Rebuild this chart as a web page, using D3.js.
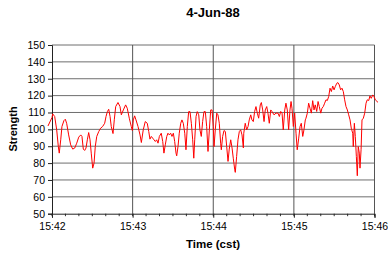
<!DOCTYPE html>
<html>
<head>
<meta charset="utf-8">
<script src="https://cdn.jsdelivr.net/npm/d3@7"></script>
<style>
  body { margin: 0; background: #fff; }
  text { font-family: "Liberation Sans", Arial, sans-serif; fill: #000; }
</style>
</head>
<body>
<div id="wrapper"></div>
<script>
// seconds after 15:42:00 and the strength
const seconds = [-3, 0, 0.5, 2, 3.5, 4.7, 5.4, 6.5, 7.4, 8.9, 9.9, 10.9, 12.4, 13.9, 15.4, 16.9, 18.4, 19.9,
    21.4, 22.3, 23.3, 24.3, 25.3, 26.3, 27.3, 28.3, 29.2, 30.3, 31.3, 32.2, 33.3, 34.8, 36.2, 37.7, 39.2,
    40.2, 41.2, 42.2, 43.2, 44.1, 45.4, 46.4, 47.4, 49.1, 50.6, 51.6, 53.1, 54.8, 56, 57.5, 59, 59.8,
    60.5, 61.5, 62.5, 64, 65.5, 66.5, 67.9, 69.4, 70.9, 72, 72.9, 73.9, 74.9, 75.9, 76.9, 77.9, 78.9,
    79.9, 81.3, 82.4, 83.3, 84.3, 85.4, 86.3, 87.3, 88.3, 89.3, 90.3, 91.3, 92.3, 92.8, 93.8, 94.7,
    95.8, 96.7, 97.7, 98.8, 99.7, 100.7, 101.7, 102.7, 103.7, 104.7, 105.5, 106.2, 107.2, 108.1, 109.2,
    110.1, 111.1, 112.1, 113.1, 114.1, 115.1, 116.1, 117.1, 118.1, 119.1, 120, 120.6, 121.5, 122.6,
    123.5, 124.5, 125.5, 126, 127, 128, 129, 130, 131, 131.9, 133, 134, 134.9, 136, 136.4, 137.4,
    138.4, 139.4, 140.4, 141.4, 142.4, 142.7, 143.8, 144.9, 145.9, 146.8, 147.9, 148.8, 149.8, 150.8,
    151.8, 152.8, 153.8, 155, 155.8, 156.8, 157.8, 158.7, 159.8, 160.7, 161.7, 162.8, 163.7, 165.2,
    166.7, 168.2, 169.2, 170.2, 171.2, 172.1, 173.2, 174.1, 175.1, 176.1, 177.1, 177.9, 178.6, 179.6,
    180.6, 181.6, 182.5, 183.6, 184.6, 185.5, 186.6, 187.5, 188.5, 189, 190, 191, 192, 193, 194, 195,
    195.9, 197, 198, 198.9, 200, 200.9, 201.9, 202.9, 203.9, 204.9, 205.9, 206.9, 207.9, 208.9, 209.9,
    210.8, 211.9, 212.8, 213.8, 214.8, 215.8, 216.8, 217.8, 218.8, 219.8, 220.8, 221.8, 222.7, 223.8,
    224.2, 225, 225.7, 226.5, 227.2, 227.9, 228.7, 229.2, 230, 230.7, 231.7, 232.7, 233.7, 234.6,
    235.7, 236.6, 237.6, 238.7, 239.6, 240.6, 242.6]

const strength = [102, 107, 109.2, 107.6, 99.7, 89.8, 85.9, 93.8, 101.7, 105.2, 106, 103.6, 96.7, 90.8, 88.3, 88.9, 91.8, 95.4,
    96.7, 95.8, 88.3, 87.5, 88.9, 93.8, 98.1, 93.8, 85.9, 77, 80, 89.8, 95.8, 98.7, 100.7, 101.7, 103.6,
    107.6, 110.5, 111.9, 107.6, 101.7, 97.5, 106, 113.5, 115.9, 113.5, 108.6, 111.5, 114.5, 112.5, 106.6, 101.7, 99.3,
    105.6, 108, 105.6, 101.7, 96.7, 92.2, 99.7, 104.6, 103.6, 98.7, 94.2, 95.8, 94.8, 93.8, 92.8, 93.8, 91.8,
    95.8, 97.7, 92.8, 85.9, 90.8, 95.8, 97.7, 96.7, 97.7, 95.8, 97.7, 92.8, 85.9, 84.3, 90, 97.7,
    103.6, 105.6, 103.6, 97.7, 87.9, 101.7, 110.5, 110.5, 103.6, 93.8, 82.9, 93.8, 107.6, 110.5, 108.6,
    99.7, 95.8, 104.6, 110.5, 110.5, 101.7, 86.9, 99.7, 111.5, 111.5, 101.7, 89.8, 99.7, 109.6,
    108.6, 103.6, 91.8, 87.9, 95.8, 99.3, 98.7, 89.8, 81, 88.3, 93.8, 88.9, 82.9, 76, 74.5, 83.9,
    93.8, 98.7, 99.7, 96.7, 89, 97.7, 103.6, 99.7, 101.7, 105.6, 108.6, 105.6, 104.6, 110.6,
    113.5, 109.6, 106.6, 114.5, 115.9, 111.5, 104.6, 111.5, 113.5, 109.6, 103.6, 111.5, 110.6, 108.6,
    109.6, 109.6, 107.6, 110.6, 109.6, 99.7, 111.5, 115.5, 111.5, 99.7, 111.5, 116.5, 112.5, 101.7,
    109.6, 97.7, 87.9, 94.8, 101.7, 103.6, 95.8, 99.7, 105.6, 106.6, 109.6, 115.5, 112.5, 109.6, 117, 111.5,
    114.5, 110.6, 116.5, 113.5, 109.6, 112.5, 113.5, 115.5, 117.5, 117.1, 119.4, 124.4, 122.4, 125.7, 123.4,
    125.3, 127.3, 127.7, 126.3, 123.4, 124.4, 122.4, 117.5, 113.5, 111.5, 108.6, 105.6, 100.7, 97.7,
    89.8, 103.6, 95.8, 83.9, 72.5, 89.8, 85.9, 77, 87.9, 105.6, 106.6, 109.6, 115.5, 117.5,
    117.1, 119.8, 118.4, 120.4, 119.4, 117.5, 116]

const xTickLabels = ["15:42", "15:43", "15:44", "15:45", "15:46"]
const yTickValues = [50, 60, 70, 80, 90, 100, 110, 120, 130, 140, 150]
const title = "4-Jun-88"
const xTitle = "Time (cst)"
const yTitle = "Strength"

const start = new Date(1988, 5, 4, 15, 42, 0)
const toTime = s => new Date(start.getTime() + s * 1000)
const points = seconds.map((s, i) => ({ t: toTime(s), v: strength[i] }))
const xTicks = xTickLabels.map((d, i) => toTime(i * 60))
const minorTicks = d3.range(0, 241, 10).map(toTime)

let dimensions = {
    width: 388,
    height: 254,
    margin: { top: 45, right: 13.5, bottom: 40, left: 52 }
}
const innerW = dimensions.width - dimensions.margin.left - dimensions.margin.right
const innerH = dimensions.height - dimensions.margin.top - dimensions.margin.bottom - 0.3

let svg = d3.select("#wrapper")
    .append("svg")
    .attr("width", dimensions.width)
    .attr("height", dimensions.height)

const g = svg.append("g")
    .attr("transform", `translate(${dimensions.margin.left},${dimensions.margin.top})`)

const x = d3.scaleTime().domain([xTicks[0], xTicks[4]]).range([0, innerW])
const y = d3.scaleLinear().domain([50, 150]).range([innerH, 0])

// grid
g.append("g").selectAll("line")
    .data(yTickValues.slice(1))
    .enter().append("line")
    .attr("x1", 0).attr("x2", innerW)
    .attr("y1", d => y(d)).attr("y2", d => y(d))
    .attr("stroke", "#6e6e6e")
    .attr("stroke-width", 1)

g.append("g").selectAll("line")
    .data(xTicks.slice(1))
    .enter().append("line")
    .attr("x1", d => x(d)).attr("x2", d => x(d))
    .attr("y1", 0).attr("y2", innerH)
    .attr("stroke", "#555")
    .attr("stroke-width", 1)

// minor ticks on the time axis
g.append("g").selectAll("line")
    .data(minorTicks)
    .enter().append("line")
    .attr("x1", d => x(d)).attr("x2", d => x(d))
    .attr("y1", innerH).attr("y2", innerH + 2.5)
    .attr("stroke", "#333")

// axes
const yAxis = g.append("g")
    .call(d3.axisLeft(y).tickValues(yTickValues).tickSize(4).tickPadding(3).tickFormat(d3.format("d")))
yAxis.select(".domain").attr("stroke", "#222")
yAxis.selectAll(".tick line").attr("stroke", "#222")
yAxis.selectAll("text").attr("font-size", "10.5px").attr("font-family", null)

const xAxis = g.append("g")
    .attr("transform", `translate(0,${innerH})`)
    .call(d3.axisBottom(x).tickValues(xTicks).tickSize(4).tickPadding(5)
        .tickFormat((d, i) => xTickLabels[i]))
xAxis.select(".domain").attr("stroke", "#222")
xAxis.selectAll(".tick line").attr("stroke", "#222")
xAxis.selectAll("text").attr("font-size", "10.5px").attr("font-family", null)

// the series
const line = d3.line()
    .x(d => x(d.t))
    .y(d => y(d.v))

g.append("path")
    .datum(points)
    .attr("fill", "none")
    .attr("stroke", "#ff0000")
    .attr("stroke-width", 1)
    .attr("stroke-linejoin", "round")
    .attr("d", line)

// titles
svg.append("text")
    .attr("x", 213).attr("y", 16.5)
    .attr("text-anchor", "middle")
    .attr("font-size", "13px")
    .attr("font-weight", "bold")
    .text(title)

svg.append("text")
    .attr("x", 213).attr("y", 248)
    .attr("text-anchor", "middle")
    .attr("font-size", "11.5px")
    .attr("font-weight", "bold")
    .text(xTitle)

svg.append("text")
    .attr("transform", "translate(16.5,129) rotate(-90)")
    .attr("text-anchor", "middle")
    .attr("font-size", "11px")
    .attr("font-weight", "bold")
    .text(yTitle)
</script>
</body>
</html>
